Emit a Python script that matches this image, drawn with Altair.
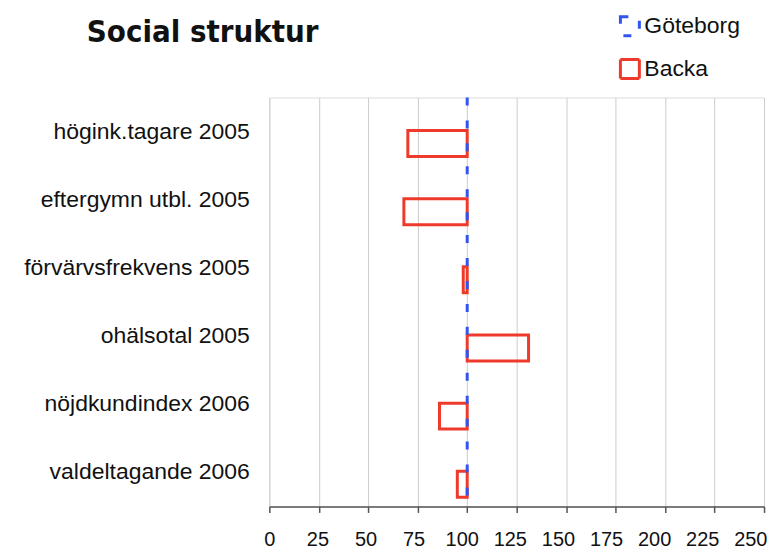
import altair as alt
import pandas as pd

categories = [
    "högink.tagare 2005",
    "eftergymn utbl. 2005",
    "förvärvsfrekvens 2005",
    "ohälsotal 2005",
    "nöjdkundindex 2006",
    "valdeltagande 2006",
]
backa = [70, 68, 98, 131, 86, 95]
goteborg = 100
series_names = ["Göteborg", "Backa"]
x_ticks = [0, 25, 50, 75, 100, 125, 150, 175, 200, 225, 250]

RED = "#ee3a2b"
BLUE = "#3355ee"
FONT = "Liberation Sans"

bars_df = pd.DataFrame({
    "category": categories,
    "value": backa,
    "ref": [goteborg] * len(categories),
    "series": ["Backa"] * len(categories),
})
rule_df = pd.DataFrame({"ref": [goteborg], "series": ["Göteborg"]})

stroke_enc = alt.Stroke(
    "series:N",
    scale=alt.Scale(domain=series_names, range=[BLUE, RED]),
    legend=alt.Legend(
        title=None,
        orient="none",
        legendX=350,
        legendY=-83,
        padding=0,
        symbolType="square",
        symbolSize=361,
        symbolStrokeWidth=3,
        symbolFillColor="transparent",
        labelFont=FONT,
        labelFontSize=23,
        labelColor="#111111",
        labelOffset=3,
        rowPadding=12,
    ),
)
dash_enc = alt.StrokeDash(
    "series:N",
    scale=alt.Scale(domain=series_names, range=[[8, 15], [1, 0]]),
    legend=None,
)

x_enc_axis = alt.X(
    "value:Q",
    scale=alt.Scale(domain=[0, 250], nice=False),
    axis=alt.Axis(
        title=None,
        values=x_ticks,
        grid=True,
        gridColor="#cccccc",
        gridWidth=1,
        domainColor="#555555",
        domainWidth=1.5,
        tickColor="#555555",
        tickWidth=1.5,
        tickSize=6,
        labelFont=FONT,
        labelFontSize=20,
        labelColor="#111111",
        labelPadding=17,
        labelOverlap=False,
        labelFlush=False,
        labelOffset=alt.expr("-datum.value * 0.055"),
    ),
)

bars = alt.Chart(bars_df).mark_bar(
    filled=False, strokeWidth=3, size=26, yOffset=12
).encode(
    x=x_enc_axis,
    x2="ref:Q",
    y=alt.Y(
        "category:N",
        sort=categories,
        scale=alt.Scale(paddingInner=0, paddingOuter=0),
        axis=alt.Axis(
            title=None,
            ticks=False,
            domain=False,
            grid=False,
            labelFont=FONT,
            labelFontSize=23,
            labelColor="#111111",
            labelPadding=20,
            labelLimit=400,
        ),
    ),
    stroke=stroke_enc,
    strokeDash=dash_enc,
)

rule = alt.Chart(rule_df).mark_rule(strokeWidth=3).encode(
    x=alt.X("ref:Q"),
    stroke=stroke_enc,
    strokeDash=dash_enc,
)

chart = alt.layer(bars, rule).properties(
    width=496,
    height=410,
    padding={"left": 262, "top": 89, "right": 12, "bottom": 42},
    autosize=alt.AutoSizeParams(type="none"),
    title=alt.TitleParams(
        "Social  struktur",
        anchor="start",
        frame="group",
        dx=-183,
        dy=58,
        offset=0,
        baseline="alphabetic",
        font="DejaVu Sans Condensed, sans-serif",
        fontSize=31,
        fontWeight="bold",
        color="#111111",
    ),
).configure_view(stroke="#cccccc", strokeWidth=1).configure(background="white")

chart.save("out.html", embed_options={"renderer": "svg", "actions": False})
